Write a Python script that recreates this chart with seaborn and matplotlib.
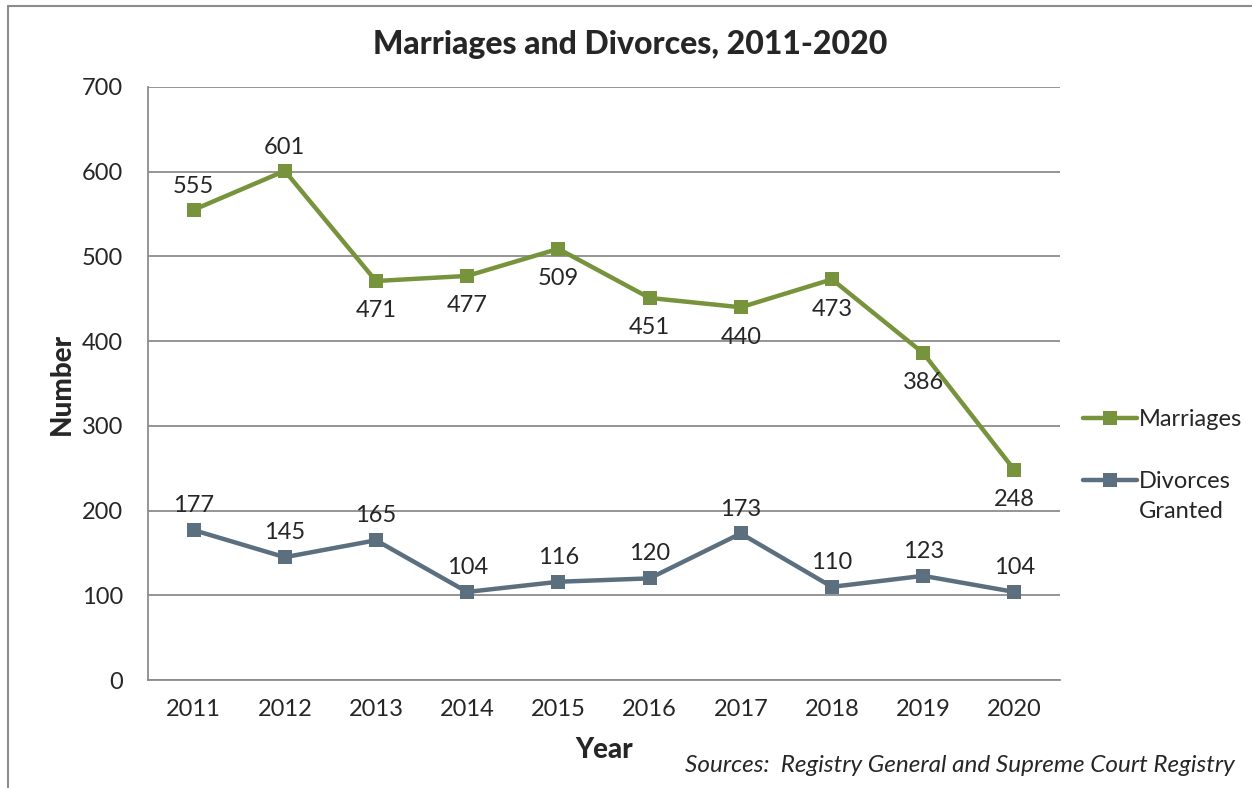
import numpy as np
import pandas as pd
import matplotlib
matplotlib.use("Agg")
import matplotlib.pyplot as plt
import seaborn as sns
from matplotlib.lines import Line2D

years = [2011, 2012, 2013, 2014, 2015, 2016, 2017, 2018, 2019, 2020]
marriages = [555, 601, 471, 477, 509, 451, 440, 473, 386, 248]
divorces = [177, 145, 165, 104, 116, 120, 173, 110, 123, 104]
series_names = ["Marriages", "Divorces Granted"]
colors = ["#77933C", "#5B6F7F"]
# label placement for marriages: above (True) or below (False)
marr_above = [True, True, False, False, False, False, False, False, False, False]

df = pd.DataFrame({
    "Year": years * 2,
    "Number": marriages + divorces,
    "Series": [series_names[0]] * len(years) + [series_names[1]] * len(years),
})

sns.set_style("white")
plt.rcParams["font.family"] = ["Lato", "DejaVu Sans"]

fig = plt.figure(figsize=(12.52, 7.88), dpi=100)
ax = fig.add_axes([0.1182, 0.137, 0.7284, 0.7526])

sns.lineplot(data=df, x="Year", y="Number", hue="Series", style="Series",
             markers=["s", "s"], dashes=False, palette=colors, linewidth=3.2,
             markersize=10, markeredgewidth=0, ax=ax, legend=False)

ax.set_xlim(2010.5, 2020.5)
ax.set_ylim(0, 700)
ax.set_yticks(np.arange(0, 701, 100))
ax.yaxis.grid(True, color="#8C8C8C", linewidth=1.3)
ax.set_axisbelow(True)
ax.set_xticks(years)
ax.set_xticks(np.arange(2010.5, 2021, 1), minor=True)
ax.tick_params(axis="x", which="major", length=0, pad=14, labelsize=17)
ax.tick_params(axis="x", which="minor", length=8, width=1.3, color="#8C8C8C", direction="out")
ax.tick_params(axis="y", length=8, width=1.3, color="#8C8C8C", direction="out", pad=10, labelsize=17)
for s in ["top", "right"]:
    ax.spines[s].set_visible(False)
for s in ["left", "bottom"]:
    ax.spines[s].set_color("#8C8C8C")
    ax.spines[s].set_linewidth(1.3)

ax.set_xlabel("Year", fontsize=20, fontweight="black", labelpad=12)
ax.set_ylabel("Number", fontsize=20, fontweight="black", labelpad=5)
fig.text(0.503, 0.943, "Marriages and Divorces, 2011-2020", ha="center", va="center",
         fontsize=23, fontweight="black")

for yr, v, up in zip(years, marriages, marr_above):
    ax.annotate(str(v), (yr, v), xytext=(0, 9 if up else -14), textcoords="offset points",
                ha="center", va="bottom" if up else "top", fontsize=17)
for yr, v in zip(years, divorces):
    ax.annotate(str(v), (yr, v), xytext=(0, 10), textcoords="offset points",
                ha="center", va="bottom", fontsize=17)

# legend: second label wraps onto a line below, handle aligned with first line
first_words = [n.split(" ")[0] for n in series_names]
handles = [Line2D([], [], color=c, marker="s", linewidth=3.2, markersize=10, markeredgewidth=0)
           for c in colors]
leg = fig.legend(handles, first_words, loc="upper left", bbox_to_anchor=(0.848, 0.508),
                 frameon=False, fontsize=17, handlelength=2.3, handletextpad=0.05,
                 labelspacing=1.75)
fig.canvas.draw()
bb = leg.get_texts()[1].get_window_extent().transformed(fig.transFigure.inverted())
fig.text(bb.x0, bb.y0 - 30 / 788, series_names[1].split(" ", 1)[1], ha="left", va="bottom",
         fontsize=17)

fig.text(0.986, 0.028, "Sources:  Registry General and Supreme Court Registry",
         ha="right", va="center", fontsize=17.5, style="italic")

# outer chart border (left and top edges visible)
fig.add_artist(Line2D([0.0065, 0.0065], [0, 0.9925], color="#8C8C8C", linewidth=1.5,
                      transform=fig.transFigure))
fig.add_artist(Line2D([0.0065, 1.0], [0.9925, 0.9925], color="#8C8C8C", linewidth=1.5,
                      transform=fig.transFigure))

fig.savefig("out.png", dpi=100)
